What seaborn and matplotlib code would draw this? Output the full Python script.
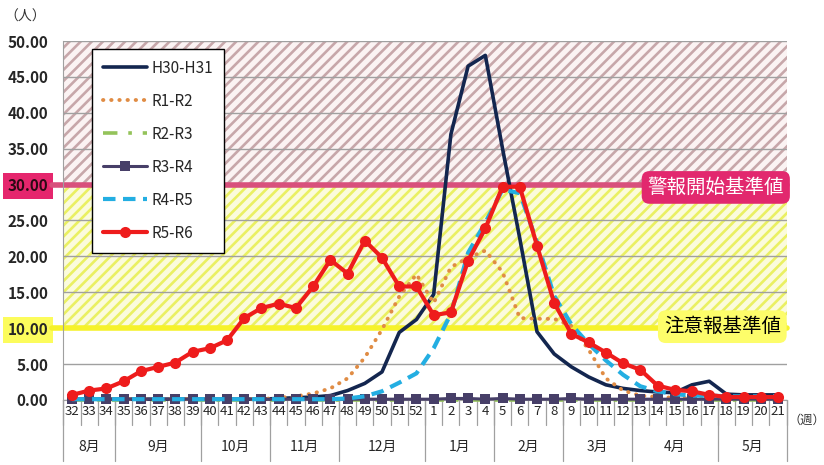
import numpy as np
import pandas as pd
import matplotlib
matplotlib.use('Agg')
import matplotlib.pyplot as plt
import matplotlib.transforms as mtransforms
import seaborn as sns

# x axis: ISO weeks from August to May
weeks = list(range(32, 53)) + list(range(1, 22))
months = ['8月', '9月', '10月', '11月', '12月', '1月', '2月', '3月', '4月', '5月']
month_lengths = [3, 5, 4, 4, 5, 4, 4, 4, 5, 4]

h30_h31 = [0.1, 0.1, 0.1, 0.1, 0.1, 0.1, 0.1, 0.1, 0.1, 0.1, 0.1, 0.1, 0.2, 0.3, 0.4,
           0.6, 1.3, 2.3, 3.9, 9.4, 11.2,
           14.7, 37.0, 46.5, 48.0, 35.0, 22.5, 9.5, 6.4, 4.6, 3.2, 2.1, 1.6, 1.3, 1.1,
           1.0, 2.1, 2.6, 0.8, 0.7, 0.7, 0.7]
r1_r2 = [0.1, 0.1, 0.1, 0.1, 0.1, 0.1, 0.1, 0.1, 0.1, 0.1, 0.1, 0.1,
         0.3, 0.5, 0.9, 1.6, 3.0, 5.9, 9.8, 14.4, 17.5,
         13.5, 18.5, 19.8, 20.8, 17.8, 11.4, 11.3, 11.3, 10.3, 7.0, 3.0, 1.3, 0.6, 0.4,
         0.3, 0.2, 0.2, 0.1, 0.1, 0.1, 0.1]
r2_r3 = [0.0] * 21 + [0.0] * 21
r3_r4 = [0.1, 0.1, 0.1, 0.1, 0.1, 0.1, 0.1, 0.1, 0.1, 0.1, 0.1, 0.1, 0.1, 0.1, 0.1,
         0.1, 0.1, 0.1, 0.1, 0.1, 0.1,
         0.1, 0.2, 0.2, 0.1, 0.2, 0.1, 0.1, 0.1, 0.2, 0.1, 0.1, 0.1, 0.1, 0.1,
         0.1, 0.1, 0.1, 0.1, 0.1, 0.1, 0.1]
r4_r5 = [0.1, 0.1, 0.1, 0.1, 0.1, 0.1, 0.1, 0.1, 0.1, 0.1, 0.1, 0.1, 0.1, 0.1, 0.1, 0.1,
         0.2, 0.5, 1.2, 2.4, 3.7,
         7.2, 12.0, 20.5, 24.7, 29.3, 28.8, 22.0, 14.5, 10.5, 7.8, 5.5, 3.5, 1.9, 1.2,
         0.8, 0.6, 0.6, 0.5, 0.5, 0.5, 0.5]
r5_r6 = [0.7, 1.3, 1.6, 2.6, 4.0, 4.6, 5.2, 6.7, 7.2, 8.3, 11.4, 12.8, 13.4, 12.8, 15.8,
         19.5, 17.6, 22.2, 19.8, 15.8, 15.8,
         11.8, 12.2, 19.4, 23.9, 29.7, 29.7, 21.5, 13.5, 9.2, 8.0, 6.6, 5.1, 4.2, 2.0,
         1.4, 1.2, 0.7, 0.4, 0.4, 0.4, 0.4]

WARNING_LEVEL = 30
ADVISORY_LEVEL = 10

sns.set_style('white')
plt.rcParams['font.family'] = ['Noto Sans CJK JP', 'DejaVu Sans']
plt.rcParams['hatch.linewidth'] = 1.9

fig = plt.figure(figsize=(8.24, 4.65), dpi=100)
ax = fig.add_axes([0.077, 0.14, 0.8777, 0.7718])

x = np.arange(len(weeks))

# background zones
ax.axhspan(WARNING_LEVEL, 50, facecolor='#fbf3f3', edgecolor='#c7a7aa', hatch='///', lw=0, zorder=0.2)
ax.axhspan(ADVISORY_LEVEL, WARNING_LEVEL, facecolor='#fbfbdc', edgecolor='#eaf062', hatch='///', lw=0, zorder=0.2)

series = [
    ('H30-H31', h30_h31, dict(color='#13264f', lw=2.6)),
    ('R1-R2', r1_r2, dict(color='#e08c44', lw=2.8, linestyle=(0, (0.1, 2.0)), dash_capstyle='round')),
    ('R2-R3', r2_r3, dict(color='#94c35a', lw=2.6, linestyle=(0, (4, 3, 1, 3)))),
    ('R3-R4', r3_r4, dict(color='#473f68', lw=2.2, marker='s', markersize=7, markeredgewidth=0)),
    ('R4-R5', r4_r5, dict(color='#23aee2', lw=3.0, linestyle=(0, (3, 1.8)))),
    ('R5-R6', r5_r6, dict(color='#ee1c1c', lw=3.0, marker='o', markersize=8, markeredgewidth=0)),
]
for i, (name, vals, style) in enumerate(series):
    sns.lineplot(x=x, y=vals, ax=ax, label=name, clip_on=False, zorder=3 + i, **style)

ax.set_xlim(-0.5, len(weeks) - 0.5)
ax.set_ylim(0, 50)
ax.set_yticks(np.arange(0, 51, 5))
ax.set_yticklabels([f'{v:.2f}' for v in np.arange(0, 51, 5)], fontsize=11, fontweight='bold')
ax.yaxis.grid(True, color='#a0a0a0', lw=1)
ax.tick_params(axis='y', length=5, color='#a0a0a0', pad=6)
ax.set_xticks(x)
ax.set_xticklabels([str(w) for w in weeks], fontsize=9.5)
ax.tick_params(axis='x', length=0, pad=4)
ax.set_xlabel('')
ax.set_ylabel('')
for side in ['top', 'right']:
    ax.spines[side].set_visible(False)
for side in ['left', 'bottom']:
    ax.spines[side].set_color('#a0a0a0')

# highlighted y tick labels for the two thresholds
for lab in ax.get_yticklabels():
    if lab.get_text() == '30.00':
        lab.set_bbox(dict(facecolor='#e5266d', edgecolor='none', pad=3.5))
        lab.set_color('#2a0a14')
    elif lab.get_text() == '10.00':
        lab.set_bbox(dict(facecolor='#fcfc5c', edgecolor='none', pad=3.5))

# threshold lines
trans_y = mtransforms.blended_transform_factory(ax.transAxes, ax.transData)
ax.plot([-0.016, 1], [WARNING_LEVEL] * 2, transform=trans_y, color='#d8507c', lw=4, clip_on=False, zorder=2)
ax.plot([-0.016, 1], [ADVISORY_LEVEL] * 2, transform=trans_y, color='#f6f22a', lw=4, clip_on=False, zorder=2)

ax.text(0.902, 0.592, '警報開始基準値', transform=ax.transAxes, ha='center', va='center',
        fontsize=14, color='white', zorder=20, clip_on=False,
        bbox=dict(boxstyle='round,pad=0.3,rounding_size=0.4', facecolor='#e2286e', edgecolor='none'))
ax.text(0.911, 0.204, '注意報基準値', transform=ax.transAxes, ha='center', va='center',
        fontsize=14, color='black', zorder=20, clip_on=False,
        bbox=dict(boxstyle='round,pad=0.3,rounding_size=0.4', facecolor='#fdfd6a', edgecolor='none'))

# week / month separators below the axis
trans_x = mtransforms.blended_transform_factory(ax.transData, ax.transAxes)
for b in np.arange(len(weeks) + 1) - 0.5:
    ax.plot([b, b], [0, -0.07], transform=trans_x, color='#a0a0a0', lw=0.9, clip_on=False)
start = 0
for m, n in zip(months, month_lengths):
    ax.plot([start - 0.5, start - 0.5], [0, -0.17], transform=trans_x, color='#a0a0a0', lw=0.9, clip_on=False)
    ax.text(start + (n - 1) / 2, -0.131, m, transform=trans_x, ha='center', va='center', fontsize=10)
    start += n
ax.plot([start - 0.5, start - 0.5], [0, -0.17], transform=trans_x, color='#a0a0a0', lw=0.9, clip_on=False)

leg = ax.legend(loc='upper left', bbox_to_anchor=(0.0395, 0.978), borderaxespad=0, fontsize=11,
                frameon=True, fancybox=False, edgecolor='black', framealpha=1,
                handlelength=2.9, handletextpad=0.3, labelspacing=1.05, borderpad=0.7)
leg.get_frame().set_linewidth(1.0)
leg.set_zorder(30)

fig.text(0.03, 0.965, '（人）', ha='center', va='center', fontsize=10, color='#333333')
fig.text(0.9565, 0.095, '（週）', ha='left', va='center', fontsize=8.8, color='#333333')

plt.savefig('out.png', dpi=100)
